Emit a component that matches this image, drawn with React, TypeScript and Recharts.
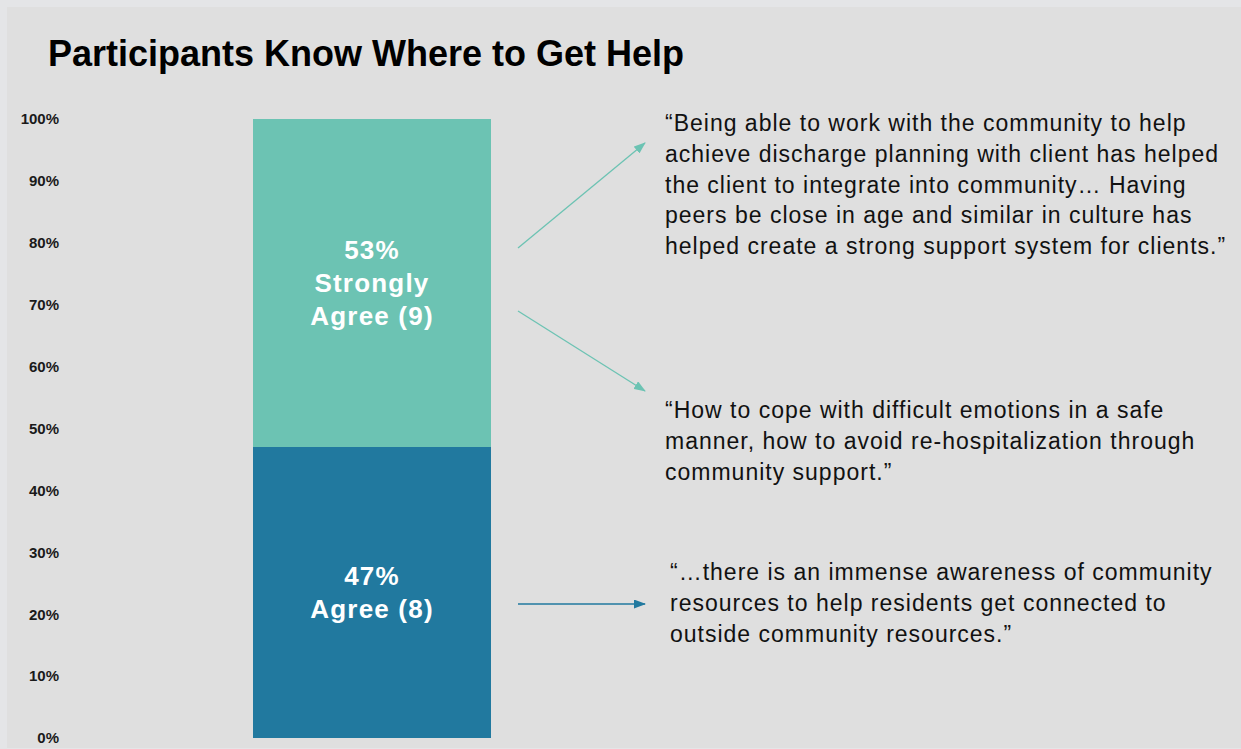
import { Bar, BarChart, LabelList, XAxis, YAxis } from "recharts";

// values
const categories = ["Participants"];
const agreePct = [47];
const stronglyPct = [53];
const agreeCount = [8];
const stronglyCount = [9];
const yTicks = [0, 10, 20, 30, 40, 50, 60, 70, 80, 90, 100];

const title = "Participants Know Where to Get Help";
const quotes = [
  [
    "\u201cBeing able to work with the community to help",
    "achieve discharge planning with client has helped",
    "the client to integrate into community\u2026 Having",
    "peers be close in age and similar in culture has",
    "helped create a strong support system for clients.\u201d",
  ],
  [
    "\u201cHow to cope with difficult emotions in a safe",
    "manner, how to avoid re-hospitalization through",
    "community support.\u201d",
  ],
  [
    "\u201c\u2026there is an immense awareness of community",
    "resources to help residents get connected to",
    "outside community resources.\u201d",
  ],
];

const data = categories.map((name, i) => ({
  name,
  agree: agreePct[i],
  strongly: stronglyPct[i],
  agreeLabel: [`${agreePct[i]}%`, `Agree (${agreeCount[i]})`],
  stronglyLabel: [`${stronglyPct[i]}%`, "Strongly", `Agree (${stronglyCount[i]})`],
}));

const FONT = "'Liberation Sans', Arial, sans-serif";
const TEAL = "#6cc3b3";
const BLUE = "#21799f";

function SegmentLabel(props: any) {
  const { x, y, width, height, value } = props;
  const lines: string[] = value || [];
  const lh = 33;
  const cx = x + width / 2;
  const cy = y + height / 2;
  const start = cy - ((lines.length - 1) * lh) / 2;
  return (
    <text
      x={cx}
      fill="#ffffff"
      textAnchor="middle"
      fontFamily={FONT}
      fontWeight="bold"
      fontSize={26}
      letterSpacing={1.2}
    >
      {lines.map((l, i) => (
        <tspan key={i} x={cx} y={start + i * lh} dominantBaseline="central">
          {l}
        </tspan>
      ))}
    </text>
  );
}

const quoteBoxes = [
  { left: 665, top: 108 },
  { left: 665, top: 395 },
  { left: 670, top: 557 },
];

export default function App() {
  return (
    <div
      style={{
        position: "fixed",
        left: 0,
        top: 0,
        width: 1241,
        height: 749,
        background: "#e4e5e7",
        overflow: "hidden",
        fontFamily: FONT,
      }}
    >
      <div
        style={{
          position: "absolute",
          left: 7,
          top: 7,
          width: 1234,
          height: 741,
          background: "#dfdfdf",
        }}
      />
      <div
        style={{
          position: "absolute",
          left: 48,
          top: 33,
          fontSize: 36,
          fontWeight: "bold",
          color: "#000",
          whiteSpace: "nowrap",
          lineHeight: "42px",
        }}
      >
        {title}
      </div>
      <div style={{ position: "absolute", left: 0, top: 0 }}>
        <BarChart
          width={1241}
          height={749}
          data={data}
          margin={{ top: 119, right: 750, bottom: 11, left: 0 }}
          barCategoryGap={0}
        >
          <XAxis dataKey="name" hide />
          <YAxis
            type="number"
            domain={[0, 100]}
            ticks={yTicks}
            width={253}
            axisLine={false}
            tickLine={false}
            tickSize={0}
            tickMargin={194}
            tickFormatter={(v: number) => `${v}%`}
            tick={{ fill: "#1a1a1a", fontSize: 15, fontWeight: "bold", fontFamily: FONT }}
            interval={0}
          />
          <Bar dataKey="agree" stackId="a" fill={BLUE} isAnimationActive={false}>
            <LabelList dataKey="agreeLabel" content={SegmentLabel} />
          </Bar>
          <Bar dataKey="strongly" stackId="a" fill={TEAL} isAnimationActive={false}>
            <LabelList dataKey="stronglyLabel" content={SegmentLabel} />
          </Bar>
        </BarChart>
      </div>
      <svg
        width={1241}
        height={749}
        style={{ position: "absolute", left: 0, top: 0, pointerEvents: "none" }}
      >
        <defs>
          <marker id="headTeal" markerWidth="12" markerHeight="9" refX="11" refY="4.5" orient="auto" markerUnits="userSpaceOnUse">
            <path d="M0,0 L12,4.5 L0,9 z" fill={TEAL} />
          </marker>
          <marker id="headBlue" markerWidth="12" markerHeight="9" refX="11" refY="4.5" orient="auto" markerUnits="userSpaceOnUse">
            <path d="M0,0 L12,4.5 L0,9 z" fill={BLUE} />
          </marker>
        </defs>
        <line x1={518} y1={248} x2={645} y2={143} stroke={TEAL} strokeWidth={1.3} markerEnd="url(#headTeal)" />
        <line x1={518} y1={311} x2={645} y2={391} stroke={TEAL} strokeWidth={1.3} markerEnd="url(#headTeal)" />
        <line x1={518} y1={604} x2={645} y2={604} stroke={BLUE} strokeWidth={1.3} markerEnd="url(#headBlue)" />
      </svg>
      {quotes.map((q, i) => (
        <div
          key={i}
          style={{
            position: "absolute",
            left: quoteBoxes[i].left,
            top: quoteBoxes[i].top,
            fontSize: 23,
            letterSpacing: 1,
            lineHeight: "30.8px",
            color: "#111",
            whiteSpace: "nowrap",
          }}
        >
          {q.map((line, j) => (
            <div key={j}>{line}</div>
          ))}
        </div>
      ))}
    </div>
  );
}
